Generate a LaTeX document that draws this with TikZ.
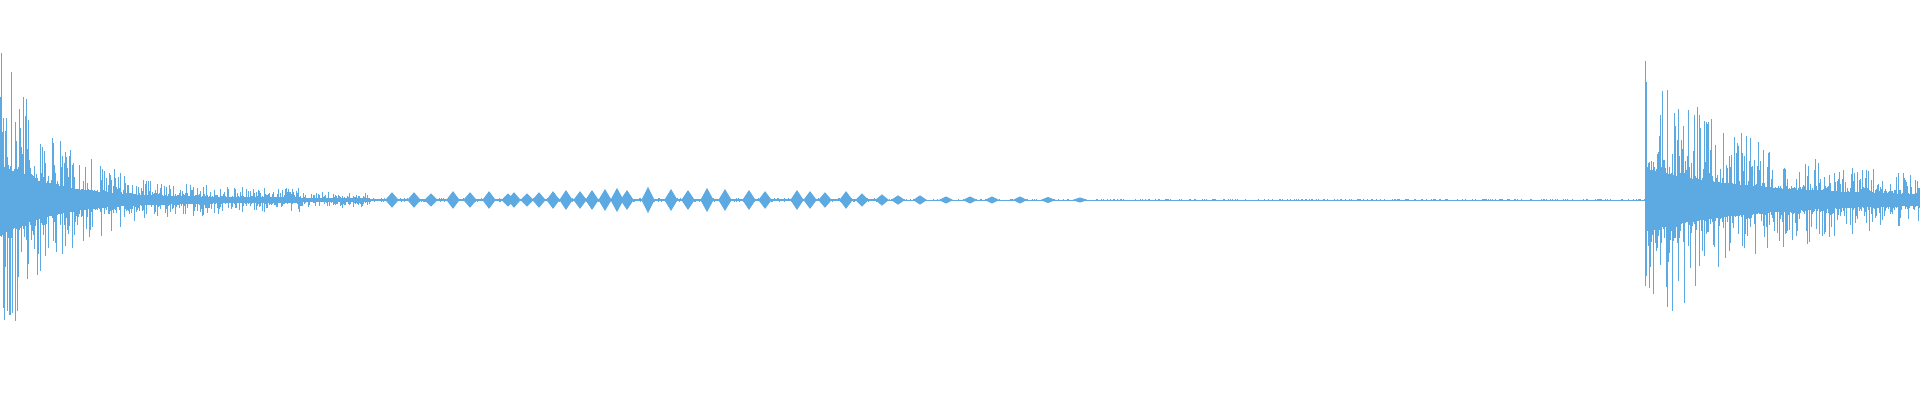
\documentclass[tikz,border=0pt]{standalone}
\usepackage{tikz}
\definecolor{wave}{RGB}{93,170,226}
\tikzstyle{trace} = [draw=wave, line width=0.008cm]
\tikzstyle{blob} = [fill=wave, draw=wave, line width=0.01cm]
\begin{document}
\begin{tikzpicture}[x=0.01cm, y=0.01cm]
\useasboundingbox (0,0) rectangle (1920,400);
\pgfmathsetseed{4711}
% base line
\draw[draw=wave, line width=0.008cm] (0,200) -- (1920,200);
% waveform samples
\foreach \x in {0,...,1919} {
  \ifnum\x<300 \pgfmathsetmacro{\env}{150*exp(-\x/55)+12}
  \else\ifnum\x<370 \def\env{8}
  \else\ifnum\x<880 \def\env{2.5}
  \else\ifnum\x<1645 \def\env{1}
  \else \pgfmathsetmacro{\env}{125*exp(-(\x-1645)/110)+16}
  \fi\fi\fi\fi
  \pgfmathsetmacro{\up}{\env*(0.22+0.78*rnd^3)}
  \pgfmathsetmacro{\dn}{\env*(0.22+0.78*rnd^3)}
  \draw[trace] (\x,200+\up) -- (\x,200-\dn);
}
% pulses in the quiet part
\foreach \p/\h in {392/7,414/7,431/6,453/8,470/7,489/8,508/6,514/7,527/6,539/7,553/8,566/9,580/8,592/9,605/10,617/11,627/9,648/12,671/10,688/9,707/11,725/10,749/9,765/8,797/9,810/8,825/7,846/8,862/6,882/5,898/4,920/4,946/3,970/3,992/3,1020/3,1048/2.5,1080/2}
  \fill[blob] (\p-6,200) -- (\p,200+\h) -- (\p+6,200) -- (\p,200-\h) -- cycle;
\end{tikzpicture}
\end{document}
